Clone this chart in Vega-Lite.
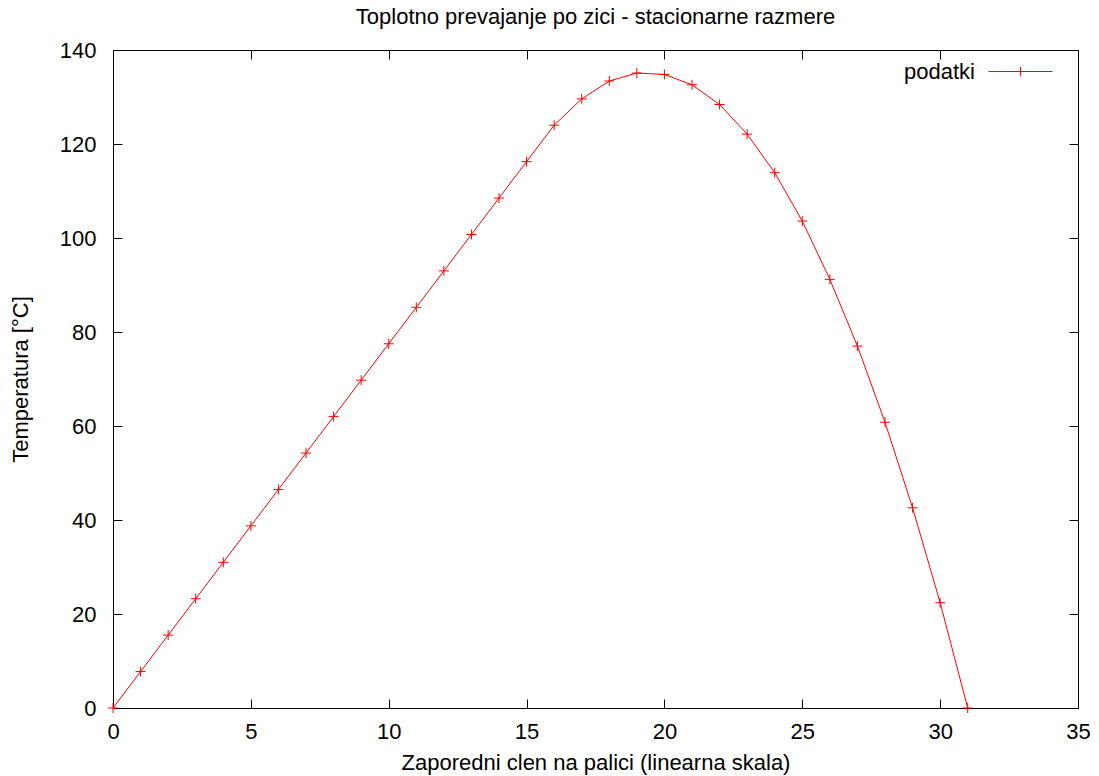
{
  "$schema": "https://vega.github.io/schema/vega-lite/v6.json",
  "width": 965,
  "height": 658,
  "autosize": "none",
  "padding": {"left": 113, "top": 50, "right": 21, "bottom": 68},
  "background": "white",
  "config": {
    "font": "Liberation Sans",
    "view": {"stroke": "black", "strokeWidth": 1},
    "axis": {
      "grid": false,
      "domainColor": "black",
      "tickColor": "black",
      "tickSize": -9,
      "labelFlush": false,
      "labelOverlap": false,
      "labelColor": "black",
      "labelFontSize": 22,
      "titleFontSize": 22,
      "titleFontWeight": "normal",
      "titleColor": "black",
      "labelFont": "Liberation Sans",
      "titleFont": "Liberation Sans"
    }
  },
  "title": {
    "text": "Toplotno prevajanje po zici - stacionarne razmere",
    "fontSize": 22,
    "fontWeight": "normal",
    "color": "black",
    "font": "Liberation Sans",
    "offset": 10
  },
  "data": {
    "values": [
      {"clen": 0, "T": 0},
      {"clen": 1, "T": 7.75},
      {"clen": 2, "T": 15.5},
      {"clen": 3, "T": 23.25},
      {"clen": 4, "T": 31.0},
      {"clen": 5, "T": 38.75},
      {"clen": 6, "T": 46.5},
      {"clen": 7, "T": 54.25},
      {"clen": 8, "T": 62.0},
      {"clen": 9, "T": 69.75},
      {"clen": 10, "T": 77.5},
      {"clen": 11, "T": 85.25},
      {"clen": 12, "T": 93.0},
      {"clen": 13, "T": 100.75},
      {"clen": 14, "T": 108.5},
      {"clen": 15, "T": 116.25},
      {"clen": 16, "T": 124.0},
      {"clen": 17, "T": 129.6},
      {"clen": 18, "T": 133.4},
      {"clen": 19, "T": 135.1},
      {"clen": 20, "T": 134.8},
      {"clen": 21, "T": 132.6},
      {"clen": 22, "T": 128.4},
      {"clen": 23, "T": 122.1},
      {"clen": 24, "T": 113.9},
      {"clen": 25, "T": 103.6},
      {"clen": 26, "T": 91.2},
      {"clen": 27, "T": 77.0},
      {"clen": 28, "T": 60.8},
      {"clen": 29, "T": 42.6},
      {"clen": 30, "T": 22.4},
      {"clen": 31, "T": 0}
    ]
  },
  "layer": [
    {
      "mark": {"type": "line", "strokeWidth": 1},
      "encoding": {
        "x": {
          "field": "clen", "type": "quantitative",
          "scale": {"domain": [0, 35], "nice": false, "zero": false},
          "axis": {"orient": "bottom", "values": [0,5,10,15,20,25,30,35], "labelPadding": 22, "titlePadding": 10, "title": "Zaporedni clen na palici (linearna skala)"}
        },
        "y": {
          "field": "T", "type": "quantitative",
          "scale": {"domain": [0, 140], "nice": false},
          "axis": {"orient": "left", "values": [0,20,40,60,80,100,120,140], "labelPadding": 26, "titlePadding": 27, "title": "Temperatura [°C]"}
        },
        "color": {
          "datum": "podatki", "type": "nominal",
          "scale": {"range": ["#ff0000"]},
          "legend": {
            "title": null,
            "orient": "none",
            "legendX": 875,
            "legendY": -11,
            "padding": 0,
            "symbolType": "M-1,0L1,0M0,-0.14L0,0.14",
            "symbolSize": 4096,
            "symbolStrokeWidth": 1,
            "labelFontSize": 22,
            "labelColor": "black",
            "labelFont": "Liberation Sans",
            "labelAlign": "right",
            "labelOffset": -78
          }
        }
      }
    },
    {
      "mark": {"type": "point", "shape": "M-1,0L1,0M0,-1L0,1", "size": 100, "filled": false, "color": "#ff0000", "strokeWidth": 1, "opacity": 1},
      "encoding": {
        "x": {
          "field": "clen", "type": "quantitative",
          "scale": {"domain": [0, 35], "nice": false, "zero": false},
          "axis": {"orient": "top", "values": [0,5,10,15,20,25,30,35], "labels": false, "title": null}
        },
        "y": {
          "field": "T", "type": "quantitative",
          "scale": {"domain": [0, 140], "nice": false},
          "axis": {"orient": "right", "values": [0,20,40,60,80,100,120,140], "labels": false, "title": null}
        }
      }
    }
  ],
  "resolve": {"axis": {"x": "independent", "y": "independent"}}
}
